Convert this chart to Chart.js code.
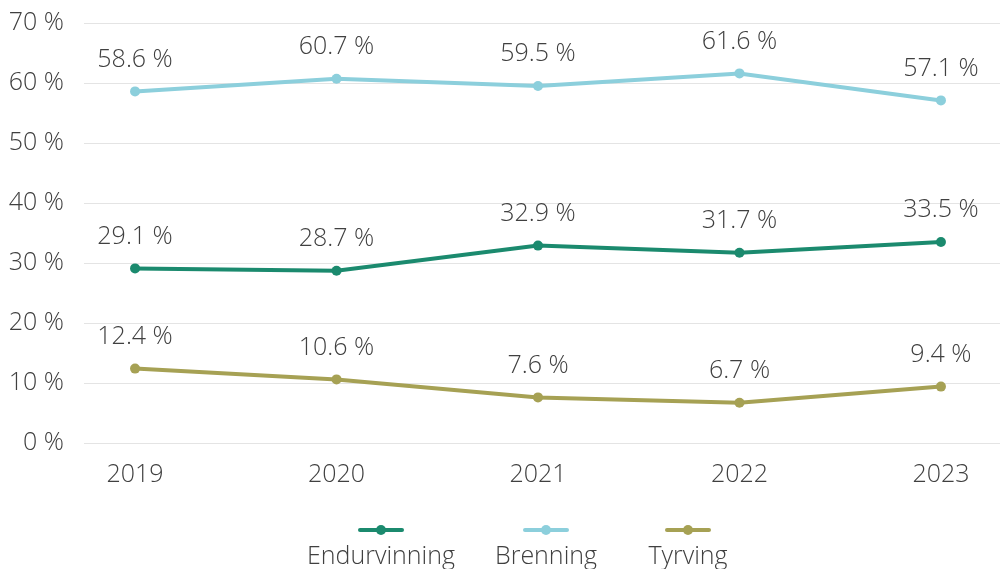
<!DOCTYPE html>
<html><head><meta charset="utf-8">
<script src="https://cdn.jsdelivr.net/npm/chart.js@4"></script>
<style>html,body{margin:0;padding:0;background:#fff}#wrap{width:1000px;height:569px}</style>
</head><body><div id="wrap"><canvas id="c" width="1000" height="569"></canvas></div>
<script>
const years = [2019, 2020, 2021, 2022, 2023];
const endurvinning = [29.1, 28.7, 32.9, 31.7, 33.5];
const brenning = [58.6, 60.7, 59.5, 61.6, 57.1];
const tyrving = [12.4, 10.6, 7.6, 6.7, 9.4];
const seriesNames = ['Endurvinning', 'Brenning', 'Tyrving'];
const seriesColors = ['#1B8A6E', '#8CCFDC', '#A6A154'];
const yTicks = [0, 10, 20, 30, 40, 50, 60, 70];

const FONT = '"Open Sans", "DejaVu Sans", sans-serif';
const FS = 25;
const TXT = '#404040';
const GRID = '#E4E4E4';

function fmt(v){ return v.toFixed(1) + ' %'; }

const gridPlugin = {
  id: 'fullGrid',
  beforeDatasetsDraw(chart){
    const ctx = chart.ctx, ys = chart.scales.y;
    ctx.save();
    ctx.strokeStyle = GRID;
    ctx.lineWidth = 1;
    ys.ticks.forEach(t => {
      const y = Math.round(ys.getPixelForValue(t.value)) + 0.5;
      ctx.beginPath(); ctx.moveTo(chart.chartArea.left, y); ctx.lineTo(chart.width, y); ctx.stroke();
    });
    ctx.restore();
  }
};

const labelPlugin = {
  id: 'vlabels',
  afterDatasetsDraw(chart){
    const ctx = chart.ctx;
    ctx.save();
    ctx.font = '300 ' + FS + 'px ' + FONT;
    ctx.fillStyle = TXT;
    ctx.textAlign = 'center';
    ctx.textBaseline = 'middle';
    chart.data.datasets.forEach((ds, i) => {
      chart.getDatasetMeta(i).data.forEach((pt, j) => {
        ctx.fillText(fmt(ds.data[j].y), pt.x, pt.y - 32);
      });
    });
    ctx.restore();
  }
};

const legendCenters = [381, 546, 688];
const legendPlugin = {
  id: 'bottomLegend',
  afterDraw(chart){
    const ctx = chart.ctx;
    ctx.save();
    ctx.font = '300 ' + FS + 'px ' + FONT;
    const symY = 530, txtY = 557;
    seriesNames.forEach((n, i) => {
      const cx = legendCenters[i];
      ctx.strokeStyle = seriesColors[i];
      ctx.lineWidth = 4;
      ctx.lineCap = 'round';
      ctx.beginPath(); ctx.moveTo(cx-21, symY); ctx.lineTo(cx+21, symY); ctx.stroke();
      ctx.fillStyle = seriesColors[i];
      ctx.beginPath(); ctx.arc(cx, symY, 5, 0, Math.PI*2); ctx.fill();
      ctx.fillStyle = TXT;
      ctx.textAlign = 'center';
      ctx.textBaseline = 'middle';
      ctx.fillText(n, cx, txtY);
    });
    ctx.restore();
  }
};

const seriesData = [endurvinning, brenning, tyrving];
const datasets = seriesData.map((arr, i) => ({
  label: seriesNames[i],
  data: arr.map((v, j) => ({x: years[j], y: v})),
  borderColor: seriesColors[i],
  backgroundColor: seriesColors[i],
  borderWidth: 4,
  pointRadius: 5,
  pointHoverRadius: 5,
  pointBorderWidth: 0,
  tension: 0,
  fill: false
}));

new Chart(document.getElementById('c'), {
  type: 'line',
  data: { datasets },
  options: {
    responsive: false,
    animation: false,
    events: [],
    layout: { padding: { top: 23, left: 0, right: 0, bottom: 0 } },
    plugins: { legend: { display: false }, tooltip: { enabled: false } },
    scales: {
      x: {
        type: 'linear',
        min: 2019 - 51/201.25,
        max: 2023 + 54/201.25,
        grid: { display: false, drawTicks: false },
        border: { display: false },
        afterBuildTicks: s => { s.ticks = years.map(v => ({value: v})); },
        afterFit: s => { s.height = 126; s.paddingLeft = 0; s.paddingRight = 0; },
        ticks: {
          padding: 17,
          color: TXT,
          font: { family: FONT, size: FS, weight: 300 },
          callback: v => String(v)
        }
      },
      y: {
        min: 0, max: 70,
        afterBuildTicks: s => { s.ticks = yTicks.map(v => ({value: v})); },
        afterFit: s => { s.width = 84; s.paddingTop = 0; s.paddingBottom = 0; },
        grid: { display: false, drawTicks: false },
        border: { display: false },
        ticks: {
          padding: 20,
          color: TXT,
          font: { family: FONT, size: FS, weight: 300 },
          callback: v => v + ' %'
        }
      }
    }
  },
  plugins: [gridPlugin, labelPlugin, legendPlugin]
});
</script></body></html>
